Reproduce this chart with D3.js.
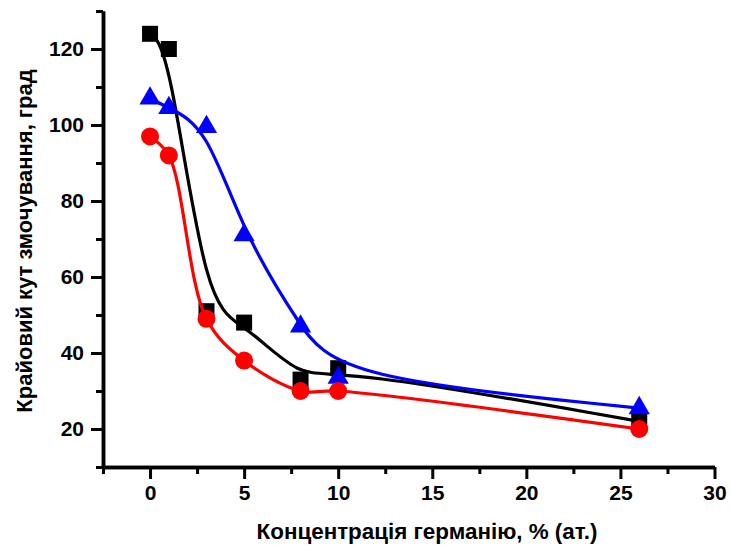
<!DOCTYPE html>
<html>
<head>
<meta charset="utf-8">
<script src="https://cdn.jsdelivr.net/npm/d3@7"></script>
<style>
  html, body { margin: 0; padding: 0; background: #fff; }
  text { font-family: "Liberation Sans", Arial, sans-serif; font-weight: bold; fill: #000; }
</style>
</head>
<body>
<div id="viz"></div>
<script>
const width = 732;
const height = 546;

// Germanium concentration, % (at.)
const conc = [0, 1, 3, 5, 8, 10, 26];
// Contact angle, degrees
const blackVals = [124, 120, 51, 48, 33, 36, 22];
const blueVals = [107, 104.5, 99.5, 71, 47, 33.5, 25.5];
const redVals = [97, 92, 49, 38, 30, 30, 20];

const xMajor = [0, 5, 10, 15, 20, 25, 30];
const xMinor = [-2.5, 2.5, 7.5, 12.5, 17.5, 22.5, 27.5];
const yMajor = [20, 40, 60, 80, 100, 120];
const yMinor = [10, 30, 50, 70, 90, 110, 130];

const xTitle = "Концентрація германію, % (ат.)";
const yTitle = "Крайовий кут змочування, град";

const svg = d3.select("#viz")
  .append("svg")
  .attr("width", width)
  .attr("height", height);

const x = d3.scaleLinear().domain([-2.5, 30]).range([103, 714.5]);
const y = d3.scaleLinear().domain([10, 130]).range([467, 11]);

// axes: major ticks with labels, minor ticks without
function styleAxis(g) {
  g.select(".domain").attr("stroke", "#000").attr("stroke-width", 3.5);
  g.selectAll(".tick line").attr("stroke", "#000").attr("stroke-width", 3);
  g.selectAll(".tick text")
    .attr("font-family", "'Liberation Sans', Arial, sans-serif")
    .attr("font-weight", "bold")
    .attr("font-size", "21px")
    .attr("fill", "#000");
}

svg.append("g")
  .attr("transform", `translate(0,${y(10)})`)
  .call(d3.axisBottom(x).tickValues(xMinor).tickSize(7).tickSizeOuter(0).tickFormat(""))
  .call(styleAxis);

svg.append("g")
  .attr("transform", `translate(0,${y(10)})`)
  .call(d3.axisBottom(x).tickValues(xMajor).tickSize(12).tickSizeOuter(0).tickPadding(6))
  .call(styleAxis);

svg.append("g")
  .attr("transform", `translate(${x(-2.5)},0)`)
  .call(d3.axisLeft(y).tickValues(yMinor).tickSize(7).tickSizeOuter(0).tickFormat(""))
  .call(styleAxis);

svg.append("g")
  .attr("transform", `translate(${x(-2.5)},0)`)
  .call(d3.axisLeft(y).tickValues(yMajor).tickSize(12).tickSizeOuter(0).tickPadding(7))
  .call(styleAxis);

// axis titles
svg.append("text")
  .attr("x", 427)
  .attr("y", 539)
  .attr("text-anchor", "middle")
  .attr("font-size", "22.4px")
  .text(xTitle);

svg.append("text")
  .attr("transform", "translate(32,241) rotate(-90)")
  .attr("text-anchor", "middle")
  .attr("font-size", "22px")
  .text(yTitle);

// smoothed curves like the original fit lines
const series = [
  { vals: blackVals, color: "#000000", shape: d3.symbolSquare, size: 256, curve: d3.curveBasis },
  { vals: blueVals, color: "#0000ff", shape: d3.symbolTriangle, size: 195, curve: d3.curveBasis },
  { vals: redVals, color: "#ff0000", shape: d3.symbolCircle, size: 255, curve: d3.curveCatmullRom.alpha(0.5) }
];

series.forEach(s => {
  const pts = conc.map((c, i) => [c, s.vals[i]]);
  const line = d3.line()
    .x(d => x(d[0]))
    .y(d => y(d[1]))
    .curve(s.curve);

  svg.append("path")
    .datum(pts)
    .attr("d", line)
    .attr("fill", "none")
    .attr("stroke", s.color)
    .attr("stroke-width", 3.2);

  svg.append("g")
    .selectAll("path")
    .data(pts)
    .join("path")
    .attr("transform", d => `translate(${x(d[0])},${y(d[1])})`)
    .attr("d", d3.symbol().type(s.shape).size(s.size))
    .attr("fill", s.color);
});
</script>
</body>
</html>
